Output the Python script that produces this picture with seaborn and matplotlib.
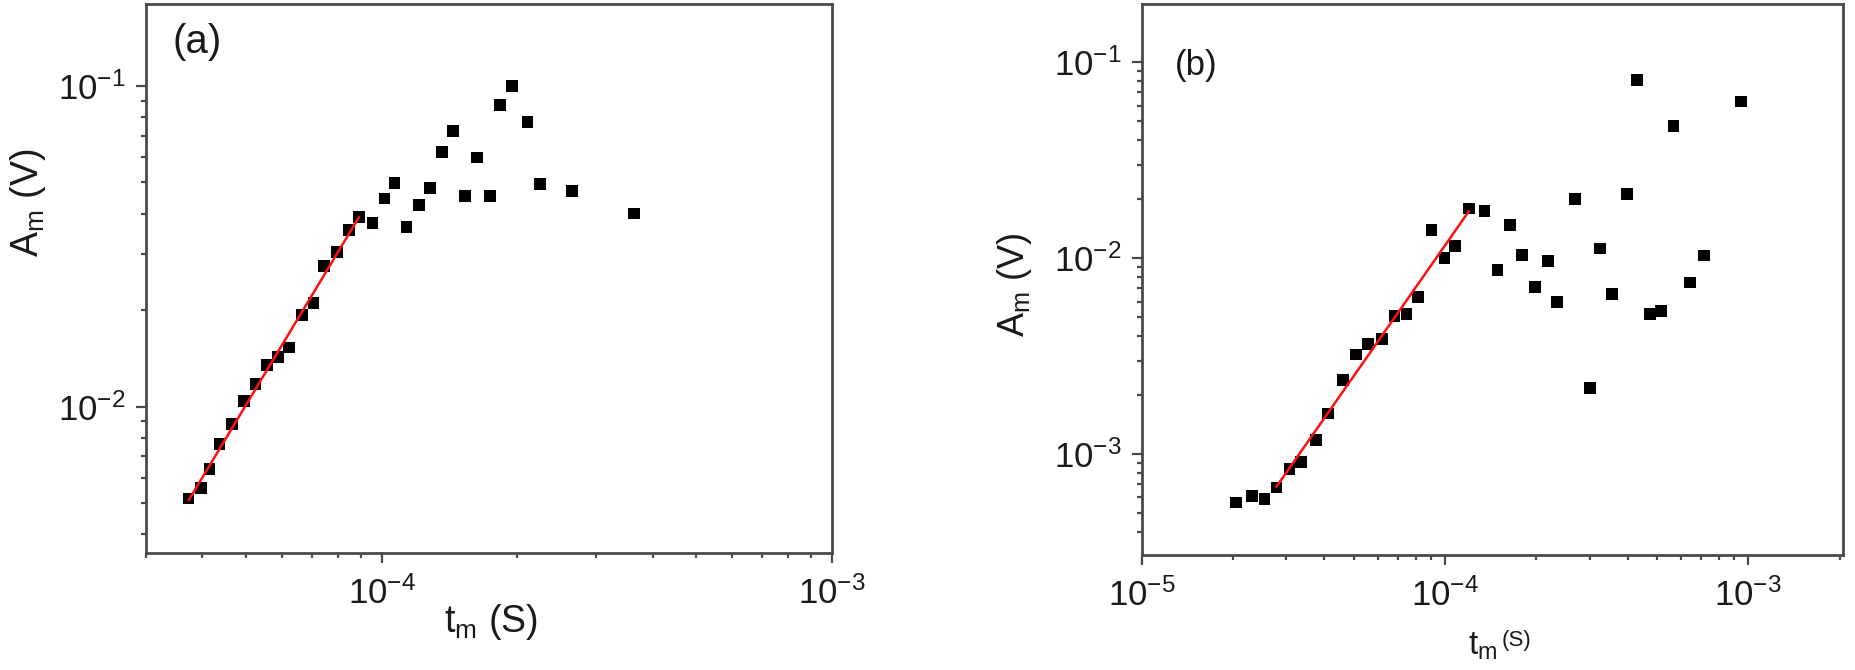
import numpy as np
import pandas as pd
import matplotlib
matplotlib.use("Agg")
import matplotlib.pyplot as plt
import seaborn as sns
from matplotlib.ticker import LogLocator, LogFormatterSciNotation, NullFormatter

# ---------------- data ----------------
t_a = [3.73e-5, 3.97e-5, 4.15e-5, 4.37e-5, 4.66e-5, 4.95e-5, 5.25e-5, 5.57e-5,
       5.88e-5, 6.23e-5, 6.67e-5, 7.06e-5, 7.45e-5, 7.97e-5, 8.47e-5, 8.91e-5,
       9.55e-5, 1.015e-4, 1.069e-4, 1.136e-4, 1.21e-4, 1.28e-4, 1.36e-4, 1.44e-4,
       1.53e-4, 1.63e-4, 1.74e-4, 1.83e-4, 1.95e-4, 2.11e-4, 2.25e-4, 2.65e-4, 3.64e-4]
A_a = [5.18e-3, 5.59e-3, 6.41e-3, 7.64e-3, 8.85e-3, 1.04e-2, 1.175e-2, 1.35e-2,
       1.43e-2, 1.53e-2, 1.93e-2, 2.10e-2, 2.75e-2, 3.04e-2, 3.56e-2, 3.91e-2,
       3.73e-2, 4.46e-2, 4.99e-2, 3.64e-2, 4.26e-2, 4.81e-2, 6.24e-2, 7.22e-2,
       4.53e-2, 5.98e-2, 4.53e-2, 8.71e-2, 0.100, 7.71e-2, 4.96e-2, 4.70e-2, 4.00e-2]
fit_range_a = (0, 16)   # points used for the red power-law fit

t_b = [2.05e-5, 2.31e-5, 2.54e-5, 2.78e-5, 3.07e-5, 3.36e-5, 3.76e-5, 4.11e-5,
       4.62e-5, 5.10e-5, 5.58e-5, 6.18e-5, 6.82e-5, 7.46e-5, 8.16e-5, 9.02e-5,
       9.96e-5, 1.08e-4, 1.20e-4, 1.35e-4, 1.49e-4, 1.64e-4, 1.79e-4, 1.98e-4,
       2.19e-4, 2.34e-4, 2.68e-4, 3.00e-4, 3.24e-4, 3.55e-4, 3.98e-4, 4.30e-4,
       4.75e-4, 5.15e-4, 5.67e-4, 6.44e-4, 7.14e-4, 9.44e-4]
A_b = [5.66e-4, 6.11e-4, 5.89e-4, 6.75e-4, 8.38e-4, 9.14e-4, 1.175e-3, 1.61e-3,
       2.38e-3, 3.22e-3, 3.65e-3, 3.88e-3, 5.07e-3, 5.20e-3, 6.30e-3, 1.39e-2,
       1.00e-2, 1.15e-2, 1.79e-2, 1.74e-2, 8.69e-3, 1.47e-2, 1.035e-2, 7.13e-3,
       9.66e-3, 5.95e-3, 2.00e-2, 2.17e-3, 1.12e-2, 6.58e-3, 2.13e-2, 8.09e-2,
       5.20e-3, 5.39e-3, 4.70e-2, 7.50e-3, 1.03e-2, 6.29e-2]
fit_range_b = (3, 19)

xlim_a, ylim_a = (3e-5, 1e-3), (3.5e-3, 0.18)
xlim_b, ylim_b = (1e-5, 2.05e-3), (3.05e-4, 0.198)

# ---------------- style ----------------
sns.set_theme(style="ticks")
plt.rcParams["font.family"] = ["Liberation Sans", "DejaVu Sans"]
plt.rcParams["mathtext.fontset"] = "custom"
plt.rcParams["mathtext.rm"] = "Liberation Sans"
plt.rcParams["mathtext.it"] = "Liberation Sans:italic"
plt.rcParams["axes.unicode_minus"] = True

SPINE = "#4a4a4a"
TXT = "#1a1a1a"

fig = plt.figure(figsize=(18.55, 6.7), dpi=100)
fig.patch.set_facecolor("white")
ax_a = fig.add_axes([0.0787, 0.1746, 0.3698, 0.8194])
ax_b = fig.add_axes([0.6155, 0.1716, 0.3779, 0.8224])


def style_axis(ax, xlim, ylim):
    ax.set_xscale("log")
    ax.set_yscale("log")
    ax.set_xlim(*xlim)
    ax.set_ylim(*ylim)
    ax.set_facecolor("white")
    for sp in ax.spines.values():
        sp.set_visible(True)
        sp.set_color(SPINE)
        sp.set_linewidth(2.0)
    for axis in (ax.xaxis, ax.yaxis):
        axis.set_major_locator(LogLocator(base=10, numticks=12))
        axis.set_minor_locator(LogLocator(base=10, subs=np.arange(2, 10), numticks=40))
        axis.set_major_formatter(LogFormatterSciNotation())
        axis.set_minor_formatter(NullFormatter())
    ax.tick_params(which="major", direction="out", length=7.5, width=1.6,
                   color=SPINE, labelsize=25, labelcolor=TXT,
                   top=False, right=False)
    ax.tick_params(which="minor", direction="out", length=3.8, width=1.6,
                   color=SPINE, top=False, right=False)
    ax.tick_params(axis="x", which="major", pad=9)
    ax.tick_params(axis="y", which="major", pad=7)
    ax.grid(False)


def draw_panel(ax, t, A, fit_range):
    df = pd.DataFrame({"t": t, "A": A})
    sns.scatterplot(data=df, x="t", y="A", ax=ax, marker="s", s=72,
                    color="black", edgecolor="none", linewidth=0, zorder=3,
                    legend=False)
    i0, i1 = fit_range
    lx = np.log10(np.asarray(t[i0:i1]))
    ly = np.log10(np.asarray(A[i0:i1]))
    k, b = np.polyfit(lx, ly, 1)
    xs = np.array([t[i0], t[i1 - 1]])
    fit_df = pd.DataFrame({"t": xs, "A": 10 ** (b + k * np.log10(xs))})
    sns.lineplot(data=fit_df, x="t", y="A", ax=ax, color="#ff1010",
                 linewidth=1.8, zorder=4, legend=False)
    ax.set_xlabel("")
    ax.set_ylabel("")


style_axis(ax_a, xlim_a, ylim_a)
style_axis(ax_b, xlim_b, ylim_b)
draw_panel(ax_a, t_a, A_a, fit_range_a)
draw_panel(ax_b, t_b, A_b, fit_range_b)
ax_a.set_xlim(*xlim_a); ax_a.set_ylim(*ylim_a)
ax_b.set_xlim(*xlim_b); ax_b.set_ylim(*ylim_b)

# panel letters
ax_a.text(0.039, 0.965, "(a)", transform=ax_a.transAxes, ha="left", va="top",
          fontsize=29, color=TXT)
ax_b.text(0.047, 0.918, "(b)", transform=ax_b.transAxes, ha="left", va="top",
          fontsize=25, color=TXT)

# axis labels
fig.text(0.0151, 0.697, r"$\mathdefault{A_m}$ (V)", rotation=90, ha="center",
         va="center", fontsize=27, color=TXT)
fig.text(0.2647, 0.0716, r"$\mathdefault{t_m}$ (S)", ha="center", va="center",
         fontsize=27, color=TXT)
fig.text(0.547, 0.575, r"$\mathdefault{A_m}$ (V)", rotation=90, ha="center",
         va="center", fontsize=26, color=TXT)
fig.text(0.8075, 0.036, r"$\mathdefault{t_m}$", ha="right", va="center",
         fontsize=24, color=TXT)
fig.text(0.8095, 0.044, "(S)", ha="left", va="center", fontsize=16, color=TXT)

fig.savefig("out.png", dpi=100, facecolor="white")
